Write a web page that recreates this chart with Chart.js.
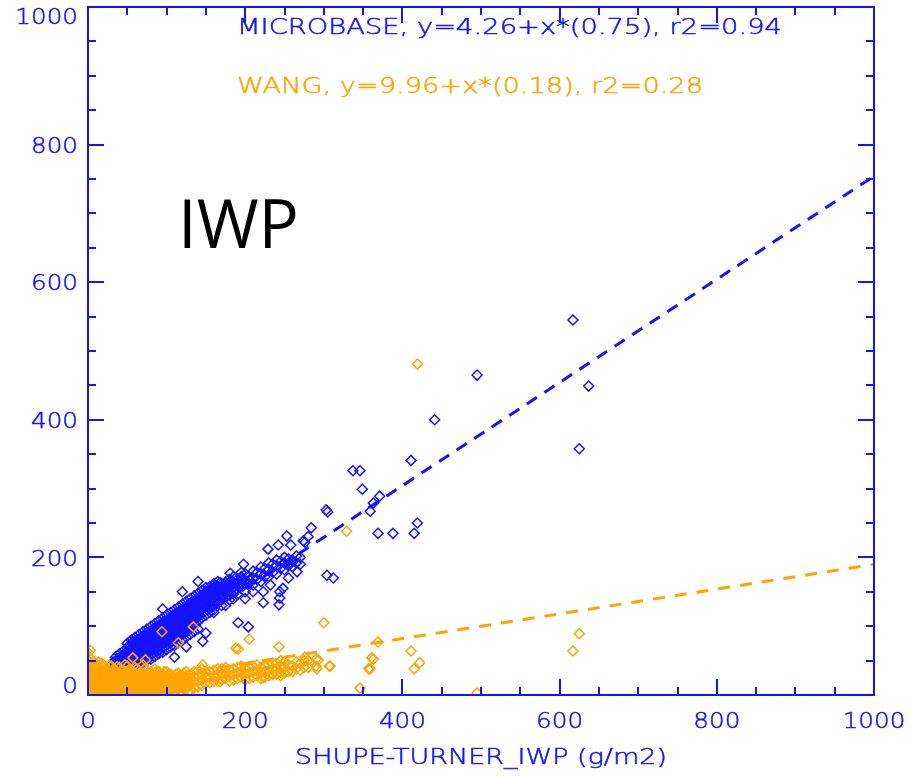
<!DOCTYPE html>
<html>
<head>
<meta charset="utf-8">
<script src="https://cdn.jsdelivr.net/npm/chart.js@4/dist/chart.umd.min.js"></script>
<style>
  html,body{margin:0;padding:0;background:#fff;}
  #wrap{width:915px;height:777px;position:relative;}
</style>
</head>
<body>
<div id="wrap"><canvas id="c" width="915" height="777"></canvas></div>
<script>
// ---------------- data ----------------
const axisTicks = [0, 200, 400, 600, 800, 1000];
const tickLabels = ['0', '200', '400', '600', '800', '1000'];
const minorStep = 50;
const xTitle = 'SHUPE-TURNER_IWP (g/m2)';
const microbaseLabel = 'MICROBASE, y=4.26+x*(0.75), r2=0.94';
const wangLabel = 'WANG, y=9.96+x*(0.18), r2=0.28';
const panelLabel = 'IWP';

const microbaseFit = [4.26, 0.75];   // intercept, slope
const wangFit = [9.96, 0.18];
const fitRange = [0, 1000];

// isolated MICROBASE points [x, y]
const microbaseOutliers = [
  [617,545],[495,465],[637,449],[625,358],[441,400],[411,341],[337,326],[346,326],
  [349,299],[371,289],[363,279],[359,267],[303,269],[305,266],[284,243],[280,230],
  [253,231],[274,224],[258,218],[369,235],[388,235],[419,250],[415,235],[304,174],
  [312,170],[248,155],[244,141],[229,212],[242,218],[276,222],[198,190],[181,177],
  [223,150],[244,150],[223,134],[243,131],[191,105],[204,99],[257,192],[266,179],
  [206,167],[168,163],[159,148],[146,134],[136,109],[146,78],[110,55],[125,70],[150,90],
  [30,10],[45,20],[15,6],[22,3],[60,14],[120,150],[140,165],[95,125],[175,130],[185,140],
  [210,150],[232,160],[255,170],[160,120],[200,140]
];
// dense MICROBASE band: [x, [y values at that x]]
const microbaseRows = [
  [20,[15,22,30]],[25,[18,26,34,40]],[30,[20,28,36,44]],[35,[24,32,40,48,55]],
  [40,[28,36,44,52,60]],[45,[30,40,48,56,64]],[50,[34,44,52,60,68,75]],[55,[38,46,55,63,72,80]],
  [60,[40,50,58,66,75,84]],[65,[44,54,62,70,79,88]],[70,[46,56,66,74,82,92]],[75,[50,60,70,78,87,96]],
  [80,[52,64,72,82,90,100]],[85,[56,66,76,86,94,104]],[90,[60,70,80,90,98,108]],[95,[62,74,84,94,102,112]],
  [100,[66,78,88,98,106,116]],[105,[70,82,92,100,110,120]],[110,[72,86,96,104,114,124]],[115,[76,90,100,108,118,128]],
  [120,[80,94,104,112,122,132]],[125,[84,98,108,118,126,136]],[130,[88,100,112,122,130,140]],[135,[92,104,116,126,134,144]],
  [140,[96,108,120,130,138,148]],[145,[112,124,134,142,152]],[150,[116,128,138,146,156]],[155,[120,132,142,150,158]],
  [160,[124,136,146,154,162]],[165,[140,150,158,165]],[170,[130,144,154,162]],[175,[148,156,164]],
  [180,[138,152,160,168]],[185,[156,164,172]],[190,[146,160,168]],[195,[162,172,178]],
  [200,[150,166,176]],[210,[160,170,180]],[220,[165,176,186]],[230,[172,182,192]],
  [240,[176,188,196]],[250,[182,192,200]],[260,[186,196]],[270,[190,200]]
];
const microbaseRows2 = [
  [22,[18,26,33]],[27,[22,30,37]],[32,[25,33,41,48]],[37,[28,36,44,52]],[42,[32,40,48,56]],
  [47,[36,45,53,61]],[52,[40,48,57,65,72]],[57,[43,52,60,69,77]],[62,[46,55,63,72,80]],
  [67,[50,59,67,76,84]],[72,[53,62,71,79,88]],[77,[56,66,75,83,92]],[82,[60,69,78,87,95]],
  [87,[63,73,82,91,99]],[92,[66,76,86,95,103]],[97,[70,80,89,99,107]],[102,[74,84,93,102,111]],
  [107,[78,88,97,106,115]],[112,[82,92,101,110,119]],[117,[86,96,105,114,123]],[122,[90,100,109,118,127]],
  [127,[94,104,113,122,131]],[132,[98,108,117,126,135]],[137,[102,112,121,130,139]],[142,[116,125,134,143]],
  [147,[120,129,138,147]],[152,[124,133,142,151]],[157,[128,137,146,155]],[162,[132,142,150,158]],
  [167,[136,146,154]],[172,[140,150,158]],[177,[144,154,160]],[182,[148,158,166]],[187,[152,162]],
  [192,[156,166]],[197,[158,168]],[205,[162,172]],[215,[168,178]],[225,[172,184]],[235,[178,190]],
  [245,[184,194]],[255,[188,198]],[265,[192,202]]
];
// isolated WANG points [x, y]
const wangOutliers = [
  [419,481],[369,77],[363,52],[357,38],[346,10],[411,64],[415,38],[422,47],[495,3],[625,89],[617,64],
  [308,42],[300,105],[205,81],[191,67],[243,70],[276,55],[293,51],[291,38],[307,42],[361,54],[359,38],
  [146,44],[164,26],[329,238],[188,68],[94,92],[134,99],[115,76],[57,54],[73,51],[3,65],[13,48],[5,26],[0,62],
  [151,26],[168,19],[223,25],[245,28]
];
// dense WANG cloud: [x, [y values at that x]]
const wangRows = [
  [0,[2,10,20,30,40,50]],[5,[4,12,22,32,42]],[10,[2,8,16,26,36,46]],[15,[4,12,20,30,40]],
  [20,[2,8,16,24,34,44]],[25,[4,12,20,28,38]],[30,[2,8,16,24,32,42]],[35,[4,12,20,28,36]],
  [40,[2,8,16,24,32,40]],[45,[4,12,20,28,36]],[50,[2,8,16,24,32,42]],[55,[4,12,20,28,36]],
  [60,[2,8,16,24,32,40]],[65,[4,12,20,28,36]],[70,[2,8,16,24,32,44]],[75,[4,12,20,28,36]],
  [80,[2,10,18,26,34]],[85,[6,14,22,30,38]],[90,[2,10,18,26,34]],[95,[6,14,22,30]],
  [100,[2,10,18,26,34]],[105,[6,14,22,30]],[110,[4,12,20,28]],[115,[8,16,24,32]],
  [120,[4,12,20,28]],[125,[10,18,26,34]],[130,[6,14,22,30]],[140,[12,20,28,36]],
  [150,[18,26,34]],[160,[20,28,36]],[170,[22,30,38]],[180,[20,28,36]],
  [190,[24,32,40]],[200,[22,30,38]],[210,[26,34,42]],[220,[24,32,40]],
  [230,[28,36,44]],[240,[30,38,46]],[250,[32,40,48]],[260,[34,42]],[270,[36,46]],[280,[40,50]]
];
const wangRows2 = [
  [2,[6,15,25,35,45,55]],[7,[3,10,19,29,39,49]],[12,[6,13,22,32,42]],[17,[3,10,18,27,36,46]],
  [22,[5,13,21,30,39]],[27,[2,9,17,25,34,43]],[32,[5,12,20,28,37]],[37,[2,9,17,25,33,41]],
  [42,[5,12,20,28,36]],[47,[2,9,17,25,33,44]],[52,[5,12,20,28,37]],[57,[2,9,17,25,33]],
  [62,[5,13,21,29,38]],[67,[2,9,17,25,33]],[72,[5,13,21,29,38]],[77,[2,9,17,25,33]],
  [82,[6,14,22,30]],[87,[2,10,18,26,34]],[92,[6,14,22,30]],[97,[2,10,18,26,34]],
  [102,[6,14,22,30]],[107,[2,10,18,26]],[112,[6,14,22,30]],[117,[4,12,20,28]],
  [122,[8,16,24,32]],[127,[4,12,20,28]],[135,[10,18,26,34]],[145,[14,22,30,38]],
  [155,[18,26,34]],[165,[20,30,38]],[175,[24,32,40]],[185,[22,30,38]],[195,[26,34,42]],
  [205,[24,32,40]],[215,[28,36,44]],[225,[26,34,42]],[235,[30,38,46]],[245,[32,42,50]],
  [255,[34,44]],[265,[38,48]],[275,[40,50]],[290,[42,52]]
];

// ---------------- styling ----------------
const BLUE = 'rgb(20,20,255)';
const ORANGE = 'rgb(255,165,0)';
const pairsToPts = arr => arr.map(p => ({x: p[0], y: p[1]}));
const rowsToPts = rows => rows.flatMap(r => r[1].map(v => ({x: r[0], y: v})));
const fitLine = f => fitRange.map(v => ({x: v, y: f[0] + f[1] * v}));
const LABEL_FONT = '200 22px "DejaVu Sans"';

function stretchedText(ctx, text, x, y, align, opts) {
  ctx.save();
  ctx.font = opts.font;
  ctx.fillStyle = opts.color;
  ctx.strokeStyle = opts.color;
  ctx.lineWidth = 0.5;
  ctx.textBaseline = 'middle';
  ctx.textAlign = align;
  let sx = opts.sx || 1;
  if (opts.width) sx = opts.width / ctx.measureText(text).width;
  ctx.translate(x, y);
  ctx.scale(sx, 1);
  ctx.fillText(text, 0, 0);
  ctx.strokeText(text, 0, 0);
  ctx.restore();
}

const idlAxes = {
  id: 'idlAxes',
  afterDraw(chart) {
    const {ctx, chartArea: a, scales: {x, y}} = chart;
    ctx.save();
    ctx.strokeStyle = BLUE;
    ctx.lineWidth = 2;
    ctx.strokeRect(a.left, a.top, a.right - a.left, a.bottom - a.top);
    const seg = (x1, y1, x2, y2) => { ctx.beginPath(); ctx.moveTo(x1, y1); ctx.lineTo(x2, y2); ctx.stroke(); };
    const lo = axisTicks[0], hi = axisTicks[axisTicks.length - 1];
    for (let v = lo; v <= hi; v += minorStep) {
      const len = axisTicks.includes(v) ? 16 : 8;
      const px = Math.round(x.getPixelForValue(v));
      seg(px, a.bottom, px, a.bottom - len);
      seg(px, a.top, px, a.top + len);
      const py = Math.round(y.getPixelForValue(v));
      seg(a.left, py, a.left + len, py);
      seg(a.right, py, a.right - len, py);
    }
    ctx.restore();
    // tick labels
    axisTicks.forEach((v, i) => {
      const px = x.getPixelForValue(v);
      stretchedText(ctx, tickLabels[i], px, a.bottom + 27, 'center', {font: LABEL_FONT, color: BLUE, sx: 1.12});
      let py = y.getPixelForValue(v) + 2.5;
      if (i === 0) py = a.bottom - 7.5;
      if (i === axisTicks.length - 1) py = a.top + 11;
      stretchedText(ctx, tickLabels[i], a.left - 10, py, 'right', {font: LABEL_FONT, color: BLUE, sx: 1.12});
    });
    // axis title
    stretchedText(ctx, xTitle, (a.left + a.right) / 2, 758, 'center', {font: LABEL_FONT, color: BLUE, width: 372});
    // fit annotations
    stretchedText(ctx, microbaseLabel, 237, 28, 'left', {font: LABEL_FONT, color: BLUE, width: 545});
    stretchedText(ctx, wangLabel, 237, 87, 'left', {font: LABEL_FONT, color: ORANGE, width: 466});
    // panel label
    ctx.save();
    ctx.fillStyle = '#000';
    ctx.font = '67px "Open Sans"';
    ctx.textBaseline = 'alphabetic';
    ctx.textAlign = 'left';
    ctx.fillText(panelLabel, 178, 248);
    ctx.restore();
  }
};

const scaleCommon = {
  type: 'linear', min: axisTicks[0], max: axisTicks[axisTicks.length - 1],
  grid: {display: false, drawTicks: false},
  border: {display: false},
  ticks: {display: false}
};

new Chart(document.getElementById('c'), {
  type: 'scatter',
  data: {
    datasets: [
      {
        label: 'WANG',
        data: rowsToPts(wangRows).concat(rowsToPts(wangRows2), pairsToPts(wangOutliers)),
        pointStyle: 'rectRot', radius: 5, borderWidth: 1.5,
        borderColor: ORANGE, backgroundColor: 'rgba(0,0,0,0)', order: 1
      },
      {
        label: 'MICROBASE',
        data: rowsToPts(microbaseRows).concat(rowsToPts(microbaseRows2), pairsToPts(microbaseOutliers)),
        pointStyle: 'rectRot', radius: 5, borderWidth: 1.5,
        borderColor: BLUE, backgroundColor: 'rgba(0,0,0,0)', order: 2
      },
      {
        label: 'MICROBASE fit', type: 'line',
        data: fitLine(microbaseFit),
        borderColor: BLUE, borderWidth: 3, borderDash: [12, 9],
        pointRadius: 0, fill: false, order: 3
      },
      {
        label: 'WANG fit', type: 'line',
        data: fitLine(wangFit),
        borderColor: ORANGE, borderWidth: 3, borderDash: [12, 10],
        pointRadius: 0, fill: false, order: 3
      }
    ]
  },
  options: {
    responsive: false,
    animation: false,
    layout: {padding: {top: 7, right: 41, left: 0, bottom: 0}},
    plugins: {legend: {display: false}, tooltip: {enabled: false}},
    scales: {
      x: Object.assign({}, scaleCommon, {
        afterFit: s => { s.height = 82; s.paddingLeft = 0; s.paddingRight = 0; }
      }),
      y: Object.assign({}, scaleCommon, {
        afterFit: s => { s.width = 88; s.paddingTop = 0; s.paddingBottom = 0; }
      })
    }
  },
  plugins: [idlAxes]
});
</script>
</body>
</html>
